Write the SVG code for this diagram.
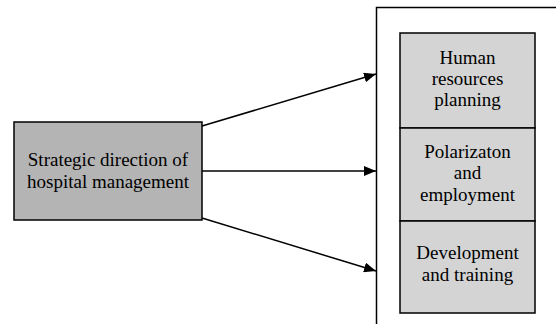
<svg xmlns="http://www.w3.org/2000/svg" width="556" height="324" viewBox="0 0 556 324">
<style>
text{font-family:"Liberation Serif","Times New Roman",serif;font-size:19px;fill:#000;text-anchor:middle}
.box{stroke:#000;stroke-width:1.5}
.conn{stroke:#000;stroke-width:1.5;fill:none;marker-end:url(#ah)}
</style>
<defs>
<marker id="ah" markerWidth="12" markerHeight="10" refX="12" refY="5" orient="auto" markerUnits="userSpaceOnUse">
<path d="M0,0 L12,5 L0,10 z" fill="#000"/>
</marker>
</defs>
<rect width="556" height="324" fill="#fff"/>
<g id="frame">
<path d="M376.5,324 L376.5,7.5 L556,7.5" fill="none" stroke="#000" stroke-width="1.5"/>
</g>
<g id="source">
<rect class="box" x="14" y="122" width="188" height="98" fill="#b4b4b4"/>
<text x="108" y="166">Strategic direction of</text>
<text x="108" y="188">hospital management</text>
</g>
<g id="hr-planning">
<rect class="box" x="400" y="33" width="135" height="95" fill="#d4d4d4"/>
<text x="467.5" y="64">Human</text>
<text x="467.5" y="85">resources</text>
<text x="467.5" y="106">planning</text>
</g>
<g id="polarization">
<rect class="box" x="400" y="128" width="135" height="93" fill="#d4d4d4"/>
<text x="467.5" y="158">Polarizaton</text>
<text x="467.5" y="179">and</text>
<text x="467.5" y="201">employment</text>
</g>
<g id="development">
<rect class="box" x="400" y="221" width="135" height="92" fill="#d4d4d4"/>
<text x="467.5" y="259">Development</text>
<text x="467.5" y="281">and training</text>
</g>
<g id="connectors">
<line class="conn" x1="202" y1="126" x2="376" y2="74"/>
<line class="conn" x1="202" y1="171" x2="376" y2="171"/>
<line class="conn" x1="202" y1="218" x2="376" y2="271"/>
</g>
</svg>
